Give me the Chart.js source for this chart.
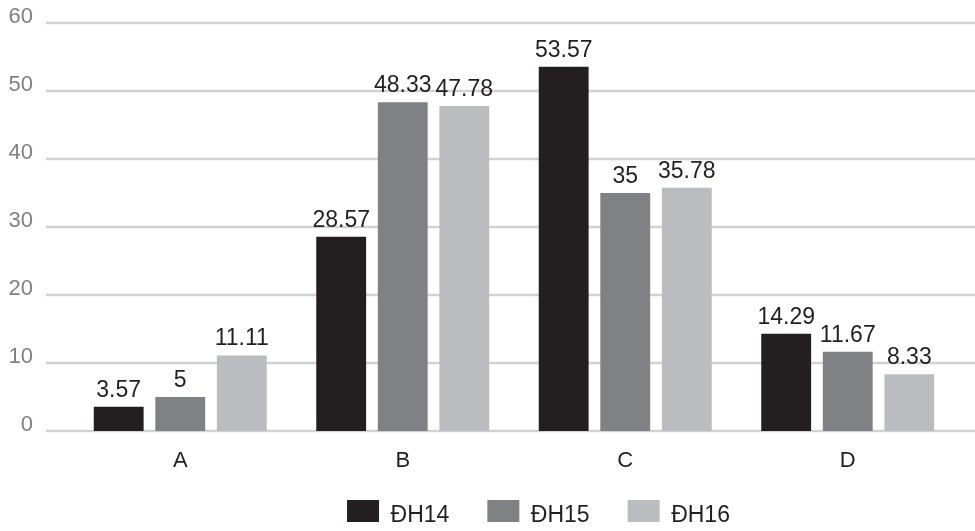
<!DOCTYPE html>
<html>
<head>
  <meta charset="utf-8">
  <script src="https://cdn.jsdelivr.net/npm/chart.js@4/dist/chart.umd.min.js"></script>
  <style>
    * { margin: 0; padding: 0; box-sizing: border-box; }
    body { background: #ffffff; width: 975px; height: 531px; overflow: hidden; }
    .chart-container { position: relative; width: 975px; height: 531px; }
  </style>
</head>
<body>
  <div class="chart-container">
    <canvas id="chart"></canvas>
  </div>
  <script>
    // Chart data
    const categories = ["A", "B", "C", "D"];
    const seriesNames = ["ĐH14", "ĐH15", "ĐH16"];
    const dh14 = [3.57, 28.57, 53.57, 14.29];
    const dh15 = [5, 48.33, 35, 11.67];
    const dh16 = [11.11, 47.78, 35.78, 8.33];
    const seriesColors = ["#231f20", "#808184", "#bbbcbf"];

    const FONT = "'Liberation Sans', Arial, Helvetica, sans-serif";
    Chart.defaults.font.family = FONT;

    // Horizontal grid lines that run past the plot area like the original
    const gridPlugin = {
      id: "gridLines",
      beforeDatasetsDraw(chart) {
        const scale = chart.scales.y;
        const ctx = chart.ctx;
        ctx.save();
        ctx.strokeStyle = "#d1d2d4";
        ctx.lineWidth = 2.5;
        scale.ticks.forEach((t, i) => {
          const y = Math.round(scale.getPixelForTick(i));
          ctx.beginPath();
          ctx.moveTo(scale.right - 23, y);
          ctx.lineTo(chart.width, y);
          ctx.stroke();
        });
        ctx.restore();
      }
    };

    // Value labels above each bar
    const valueLabels = {
      id: "valueLabels",
      afterDatasetsDraw(chart) {
        const ctx = chart.ctx;
        ctx.save();
        ctx.font = "23px " + FONT;
        ctx.fillStyle = "#231f20";
        ctx.textAlign = "center";
        ctx.textBaseline = "alphabetic";
        chart.data.datasets.forEach((ds, di) => {
          chart.getDatasetMeta(di).data.forEach((bar, i) => {
            ctx.fillText(String(ds.data[i]), bar.x, bar.y - 10);
          });
        });
        ctx.restore();
      }
    };

    // Nudge the legend to where the original sits
    const legendShift = {
      id: "legendShift",
      afterLayout(chart) {
        const lg = chart.legend;
        if (!lg) return;
        lg.left += 59; lg.right += 59;
        lg.top -= 9; lg.bottom -= 9;
      }
    };

    new Chart(document.getElementById("chart"), {
      type: "bar",
      data: {
        labels: categories,
        datasets: [
          { label: seriesNames[0], data: dh14, backgroundColor: seriesColors[0] },
          { label: seriesNames[1], data: dh15, backgroundColor: seriesColors[1] },
          { label: seriesNames[2], data: dh16, backgroundColor: seriesColors[2] }
        ]
      },
      options: {
        responsive: true,
        maintainAspectRatio: false,
        animation: false,
        categoryPercentage: 0.83,
        barPercentage: 0.81,
        layout: { padding: { top: 23, right: 16, left: 0, bottom: 0 } },
        plugins: {
          tooltip: { enabled: false },
          legend: {
            position: "bottom",
            maxHeight: 60,
            labels: {
              boxWidth: 32,
              boxHeight: 31,
              padding: 38,
              color: "#231f20",
              font: { size: 23 }
            }
          }
        },
        scales: {
          x: {
            grid: { display: false, drawTicks: false },
            border: { display: false },
            ticks: { color: "#231f20", font: { size: 22 }, padding: 17 },
            afterFit(scale) { scale.height = 40; }
          },
          y: {
            min: 0,
            max: 60,
            grid: { display: false, drawTicks: false },
            border: { display: false },
            ticks: { stepSize: 10, color: "#808184", font: { size: 22 }, padding: 36, labelOffset: -6 },
            afterFit(scale) {
              scale.width = 69;
              scale.paddingTop = 12;
              scale.paddingBottom = 12;
            }
          }
        }
      },
      plugins: [gridPlugin, valueLabels, legendShift]
    });
  </script>
</body>
</html>
